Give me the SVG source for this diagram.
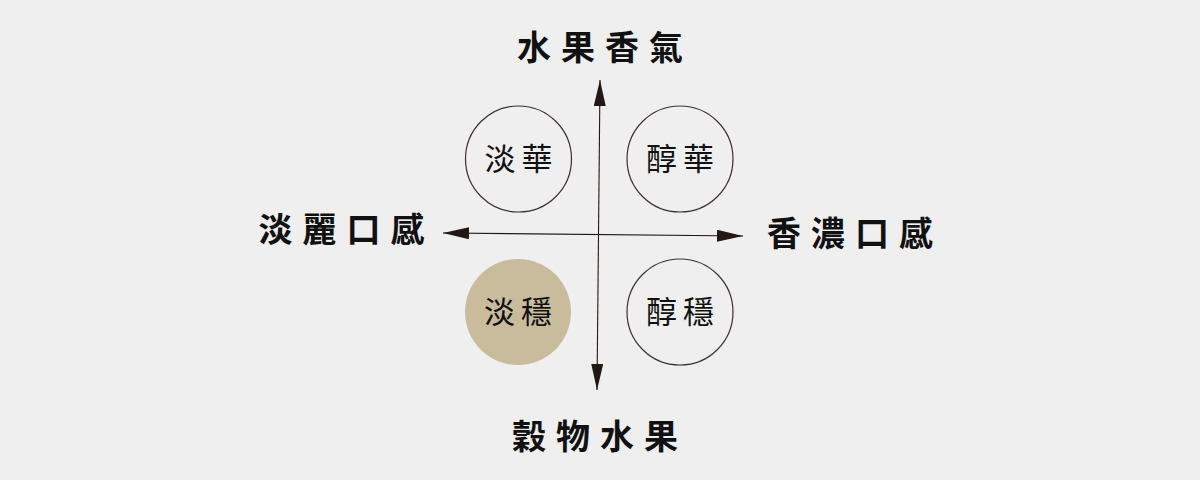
<svg xmlns="http://www.w3.org/2000/svg" width="1200" height="480" viewBox="0 0 1200 480">
<style>
.lbl{font-family:"Noto Sans CJK TC","Noto Sans CJK SC",sans-serif;font-weight:700;font-size:34px;fill:#111;letter-spacing:10px;text-anchor:middle}
.ct{font-family:"Noto Sans CJK TC","Noto Sans CJK SC",sans-serif;font-weight:400;font-size:31px;fill:#111;letter-spacing:6px;text-anchor:middle}
.c{fill:none;stroke:#3a3030;stroke-width:1.2}
.axis{stroke:#231815;stroke-width:1.1;fill:none}
</style>
<defs>
<marker id="ah" markerUnits="userSpaceOnUse" markerWidth="28" markerHeight="14" refX="26" refY="6" orient="auto-start-reverse">
<path d="M0,0 L26,6 L0,12 Z" fill="#231815"/>
</marker>
</defs>
<rect width="1200" height="480" fill="#efefef"/>
<g id="connectors">
<line class="axis" x1="600" y1="80" x2="597" y2="390" marker-start="url(#ah)" marker-end="url(#ah)"/>
<line class="axis" x1="443" y1="233" x2="743" y2="236" marker-start="url(#ah)" marker-end="url(#ah)"/>
</g>
<g id="label-top"><text class="lbl" x="605" y="60">水果香氣</text></g>
<g id="label-bottom"><text class="lbl" x="600" y="449">穀物水果</text></g>
<g id="label-left"><text class="lbl" x="346.5" y="242">淡麗口感</text></g>
<g id="label-right"><text class="lbl" x="855" y="246">香濃口感</text></g>
<g id="node-danhua"><circle class="c" cx="518.5" cy="159" r="53"/><text class="ct" x="521.5" y="170">淡華</text></g>
<g id="node-chunhua"><circle class="c" cx="680" cy="159" r="53"/><text class="ct" x="683" y="170">醇華</text></g>
<g id="node-danwen"><circle cx="518" cy="312" r="53" fill="#c8bc9c"/><text class="ct" x="521" y="323">淡穩</text></g>
<g id="node-chunwen"><circle class="c" cx="680" cy="312" r="53"/><text class="ct" x="683" y="323">醇穩</text></g>
</svg>
